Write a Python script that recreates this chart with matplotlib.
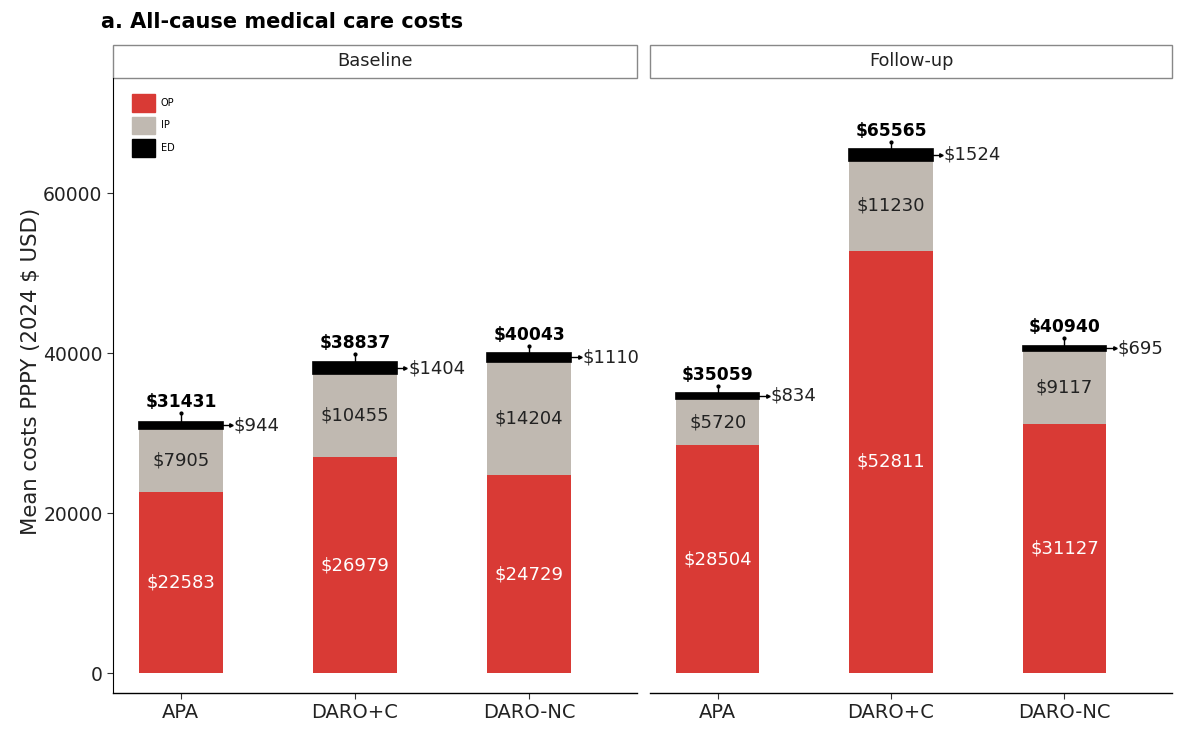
import matplotlib.pyplot as plt
from matplotlib.patches import Rectangle

plt.rcParams['font.family'] = ['DejaVu Sans']

groups = ["APA", "DARO+C", "DARO-NC"]
panels = ["Baseline", "Follow-up"]

# cost components per panel (OP, IP, ED) and the printed total
op = {"Baseline": [22583, 26979, 24729], "Follow-up": [28504, 52811, 31127]}
ip = {"Baseline": [7905, 10455, 14204], "Follow-up": [5720, 11230, 9117]}
ed = {"Baseline": [944, 1404, 1110], "Follow-up": [834, 1524, 695]}
total = {"Baseline": [31431, 38837, 40043], "Follow-up": [35059, 65565, 40940]}
# upper end of the error whisker
upper = {"Baseline": [32450, 39850, 40900], "Follow-up": [35900, 66400, 41850]}

c_op = "#D93A35"
c_ip = "#C0B9B1"
c_ed = "#000000"
txt = "#222222"

fig = plt.figure(figsize=(12, 7.42), dpi=100)
axes = [fig.add_axes([113 / 1200, 1 - 693 / 742, 524 / 1200, 615 / 742]),
        fig.add_axes([650 / 1200, 1 - 693 / 742, 522 / 1200, 615 / 742])]

x = [1, 2, 3]
w = 0.48
for ax, p in zip(axes, panels):
    ax.bar(x, op[p], w, color=c_op)
    ax.bar(x, ip[p], w, bottom=op[p], color=c_ip)
    b2 = [a + b for a, b in zip(op[p], ip[p])]
    ax.bar(x, ed[p], w, bottom=b2, color=c_ed, edgecolor=c_ed, linewidth=1.2)
    for i in range(3):
        top = b2[i] + ed[p][i]
        ax.plot([x[i], x[i]], [top, upper[p][i]], color="black", lw=1)
        ax.plot(x[i], upper[p][i], "o", color="black", ms=2)
        ax.text(x[i], op[p][i] / 2, f"${op[p][i]}", color="white", ha="center", va="center", fontsize=13)
        ax.text(x[i], op[p][i] + ip[p][i] / 2, f"${ip[p][i]}", color=txt, ha="center", va="center", fontsize=13)
        ym = b2[i] + ed[p][i] / 2
        ax.plot([x[i] + w / 2, x[i] + w / 2 + 0.05], [ym, ym], color="black", lw=1)
        ax.plot(x[i] + w / 2 + 0.05, ym, ">", color="black", ms=2.5)
        ax.text(x[i] + w / 2 + 0.065, ym, f"${ed[p][i]}", ha="left", va="center", fontsize=13, color=txt)
        ax.text(x[i], upper[p][i] + 300, f"${total[p][i]}", ha="center", va="bottom", fontsize=12.3,
                fontweight="bold")

    ax.set_xlim(0.61, 3.62)
    ax.set_ylim(-2500, 74400)
    ax.set_xticks(x)
    ax.set_xticklabels(groups, fontsize=14)
    ax.set_yticks([0, 20000, 40000, 60000])
    ax.tick_params(length=4, width=0.8, colors="#333333", labelcolor=txt)
    ax.tick_params(axis="y", labelsize=13.5)
    for s in ["top", "right"]:
        ax.spines[s].set_visible(False)
    ax.spines["bottom"].set_linewidth(1)

    # facet strip
    ax.add_patch(Rectangle((0, 1.0), 1, 33 / 615, transform=ax.transAxes, clip_on=False,
                           facecolor="white", edgecolor="#888888", lw=1))
    ax.text(0.5, 1 + 16.5 / 615, p, transform=ax.transAxes, ha="center", va="center", fontsize=12.8, color=txt)

axes[0].set_ylabel("Mean costs PPPY (2024 $ USD)", fontsize=15.3, color=txt)
axes[0].yaxis.set_label_coords(-0.137, 0.523)
axes[1].spines["left"].set_visible(False)
axes[1].tick_params(axis="y", left=False, labelleft=False)

# legend
handles = [Rectangle((0, 0), 1, 1, color=c) for c in [c_op, c_ip, c_ed]]
axes[0].legend(handles, ["OP", "IP", "ED"], loc="upper left", bbox_to_anchor=(0.028, 0.98),
               frameon=False, fontsize=7, handlelength=2.4, handleheight=2.4, labelspacing=0.5,
               handletextpad=0.6, borderaxespad=0)

fig.text(101 / 1200, 1 - 22 / 742, "a. All-cause medical care costs", fontsize=15, fontweight="bold",
         ha="left", va="center")

fig.savefig("out.png", dpi=100)
